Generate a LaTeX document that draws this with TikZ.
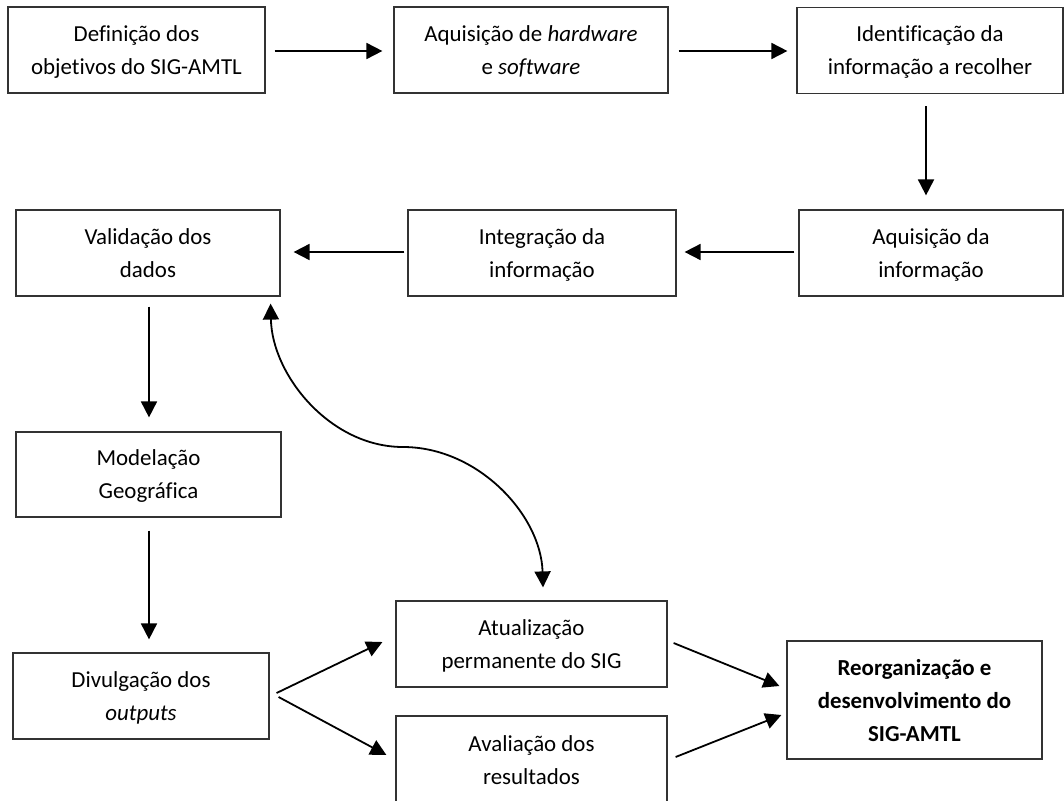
\documentclass[tikz,border=0pt]{standalone}
\usepackage{fontspec}
\setmainfont{Carlito}[Ligatures={NoCommon}]
\usetikzlibrary{arrows.meta,calc}

\tikzset{
  stagebox/.style={draw=black!80, line width=1.2pt, align=center, inner sep=0pt,
    font=\fontsize{22.9}{33}\selectfont, text depth=0pt},
  flow/.style={line width=1.8pt, -{Triangle[length=16pt,width=16pt]}},
  twoway/.style={line width=1.8pt, {Triangle[length=16pt,width=16pt]}-{Triangle[length=16pt,width=16pt]}},
}

\begin{document}
\begin{tikzpicture}[x=1pt, y=-1pt]
  \clip (0,0) rectangle (1064,800);

  % stages of the process
  \node[stagebox, minimum width=257pt, minimum height=86pt] (def) at (136.5,50)
    {Definição dos\\objetivos do SIG-AMTL};
  \node[stagebox, minimum width=274pt, minimum height=86pt] (hw) at (531,50)
    {Aquisição de \textit{hardware}\\e \textit{software}};
  \node[stagebox, minimum width=266pt, minimum height=86pt] (ident) at (930,50.5)
    {Identificação da\\informação a recolher};
  \node[stagebox, minimum width=264pt, minimum height=86pt] (aqinf) at (931,253)
    {Aquisição da\\informação};
  \node[stagebox, minimum width=268pt, minimum height=86pt] (integ) at (542,253)
    {Integração da\\informação};
  \node[stagebox, minimum width=264pt, minimum height=86pt] (valid) at (148,253)
    {Validação dos\\dados};
  \node[stagebox, minimum width=265pt, minimum height=85pt] (model) at (148.5,474.5)
    {Modelação\\Geográfica};
  \node[stagebox, minimum width=256pt, minimum height=86pt] (divul) at (141,696)
    {Divulgação dos\\\textit{outputs}};
  \node[stagebox, minimum width=271pt, minimum height=86pt] (atual) at (531.5,644)
    {Atualização\\permanente do SIG};
  \node[stagebox, minimum width=271pt, minimum height=88pt] (aval) at (531.5,760)
    {Avaliação dos\\resultados};
  \node[stagebox, minimum width=255pt, minimum height=118pt, font=\fontsize{22.9}{33}\selectfont\bfseries] (reorg) at (914.5,700)
    {Reorganização e\\desenvolvimento do\\SIG-AMTL};

  % connectors
  \draw[flow] ($(def.east)+(9,1)$) -- ($(hw.west)+(-11,1)$);
  \draw[flow] ($(hw.east)+(10,1)$) -- ($(ident.west)+(-9,0.5)$);
  \draw[flow] ($(ident.south)+(-4,12)$) -- ($(aqinf.north)+(-5,-14)$);
  \draw[flow] ($(aqinf.west)+(-4,-1)$) -- ($(integ.east)+(8,-1)$);
  \draw[flow] ($(integ.west)+(-3,-1)$) -- ($(valid.east)+(13,-1)$);
  \draw[flow] ($(valid.south)+(1,10)$) -- ($(model.north)+(0.5,-14)$);
  \draw[flow] ($(model.south)+(0.5,13)$) -- ($(model.south |- divul.north)+(0.5,-13)$);
  \draw[flow] ($(divul.east)+(7,-3)$) -- ($(atual.west)+(-13,-2)$);
  \draw[flow] ($(divul.east)+(9,1)$) -- ($(aval.west)+(-9,-5)$);
  \draw[flow] ($(atual.east)+(6,-1)$) -- ($(reorg.west)+(-7,-14)$);
  \draw[flow] ($(aval.east)+(8,-3)$) -- ($(reorg.west)+(-5,15)$);

  % two-way link between updating and validation
  \coordinate (mid) at (403,447);
  \draw[twoway] ($(valid.south east)+(-10,7)$) .. controls (272,375) and (330,447) .. (mid)
    .. controls (478,447) and (541,515) .. ($(atual.north)+(11.5,-13)$);
\end{tikzpicture}
\end{document}
